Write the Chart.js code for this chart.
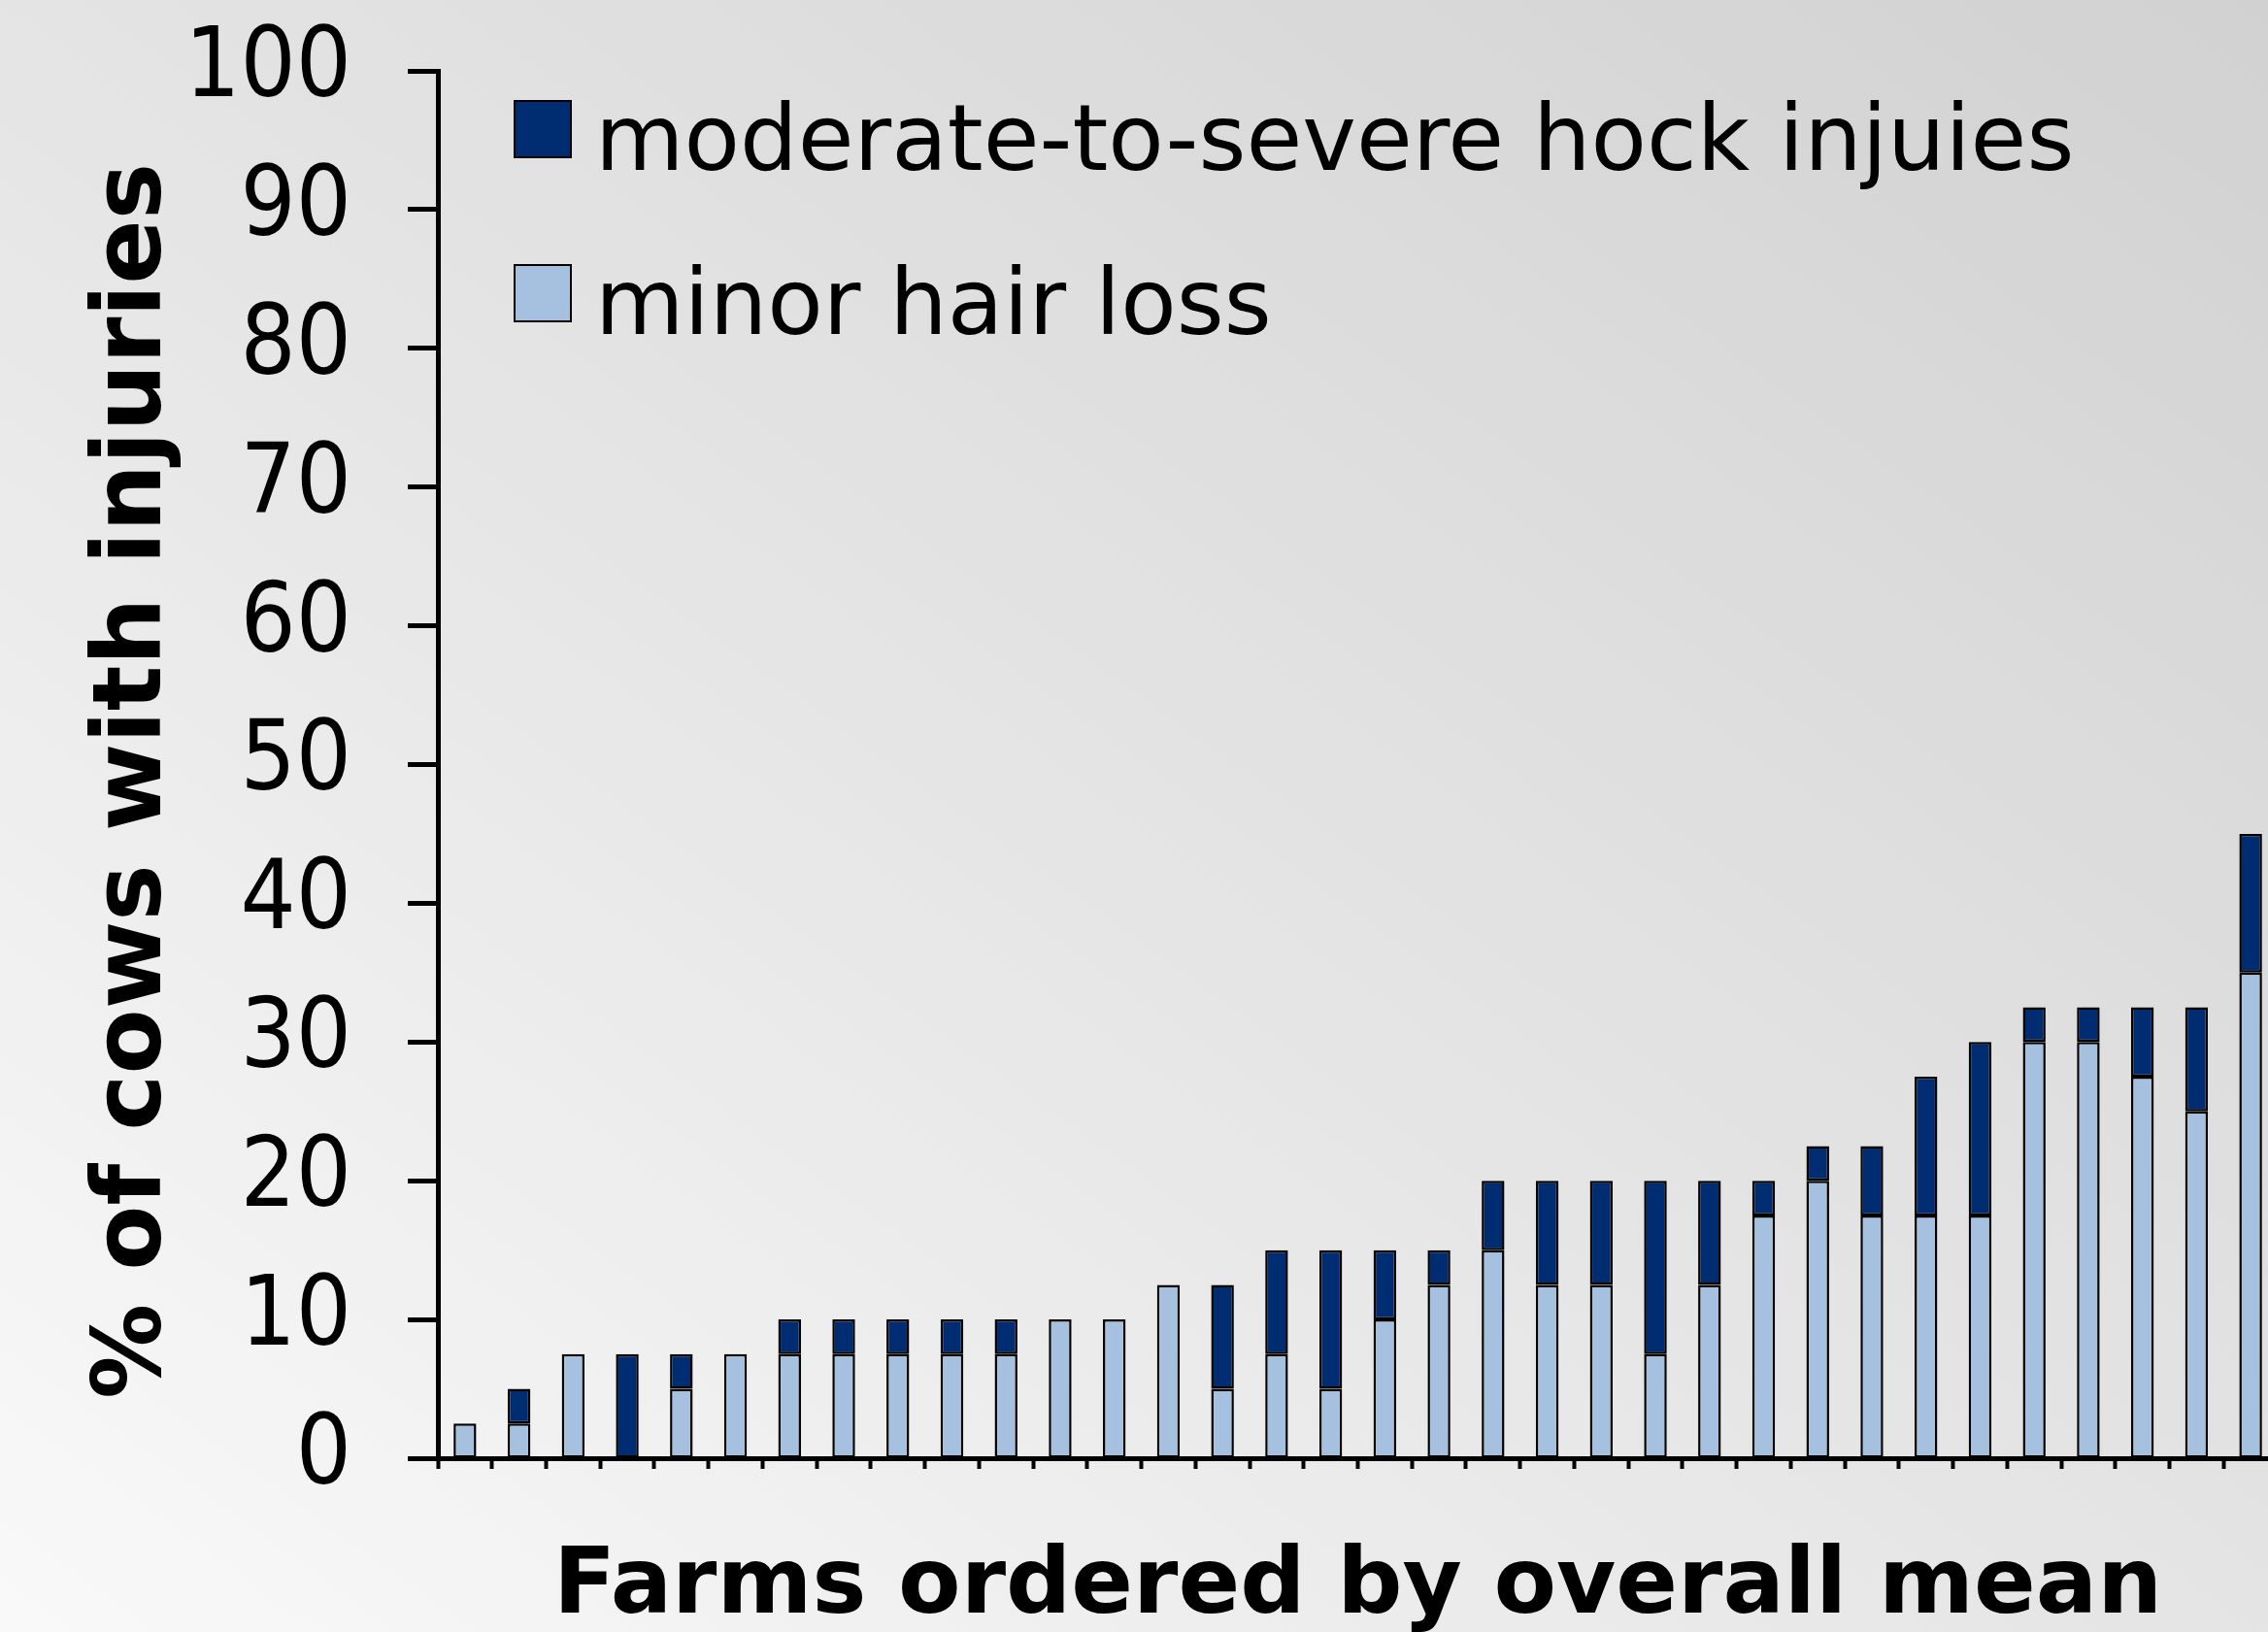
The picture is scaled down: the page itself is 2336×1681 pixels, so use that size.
<!DOCTYPE html>
<html>
<head>
<meta charset="utf-8">
<script src="https://cdn.jsdelivr.net/npm/chart.js@4.4.1/dist/chart.umd.min.js"></script>
<style>
html, body { margin: 0; padding: 0; overflow: hidden; }
#wrap { position: relative; width: 2336px; height: 1681px; overflow: hidden;
        background: linear-gradient(to top right, #f9f9f9 0%, #e4e4e4 50%, #d1d1d1 100%); }
#box { position: absolute; left: 0; top: 0; width: 2346px; height: 1681px; }
</style>
</head>
<body>
<div id="wrap"><div id="box"><canvas id="c"></canvas></div></div>
<script>
// ---- data ----
const farms = ['F1','F2','F3','F4','F5','F6','F7','F8','F9','F10','F11','F12','F13','F14','F15','F16','F17',
               'F18','F19','F20','F21','F22','F23','F24','F25','F26','F27','F28','F29','F30','F31','F32','F33','F34'];
const minorHairLoss = [2.5, 2.5, 7.5, 0, 5, 7.5, 7.5, 7.5, 7.5, 7.5, 7.5, 10, 10, 12.5, 5, 7.5, 5,
                       10, 12.5, 15, 12.5, 12.5, 7.5, 12.5, 17.5, 20, 17.5, 17.5, 17.5, 30, 30, 27.5, 25, 35];
const moderateSevere = [0, 2.5, 0, 7.5, 2.5, 0, 2.5, 2.5, 2.5, 2.5, 2.5, 0, 0, 0, 7.5, 7.5, 10,
                        5, 2.5, 5, 7.5, 7.5, 12.5, 7.5, 2.5, 2.5, 5, 10, 12.5, 2.5, 2.5, 5, 7.5, 10];
const seriesNames = ['moderate-to-severe hock injuies', 'minor hair loss'];
const yTickValues = [0, 10, 20, 30, 40, 50, 60, 70, 80, 90, 100];
const xTitle = 'Farms ordered by overall mean';
const yTitle = '% of cows with injuries';

// ---- layout / style ----
const FONT = '"DejaVu Sans", Verdana, sans-serif';
const TICK_FONT = '"DejaVu Sans Condensed", "DejaVu Sans", sans-serif';
const AXIS_LEFT = 451, AXIS_BOTTOM = 1502, CANVAS_H = 1681;
const DARK = '#002D72', LIGHT = '#A6C1E0';

// legend swatches: square drawn in the upper part of a taller image so the label text sits lower
function swatch(color) {
  const cv = document.createElement('canvas');
  cv.width = 60; cv.height = 96;
  const g = cv.getContext('2d');
  g.fillStyle = color; g.fillRect(1, 1, 58, 58);
  g.strokeStyle = '#000'; g.lineWidth = 2; g.strokeRect(1, 1, 58, 58);
  return cv;
}
const swatches = [swatch(LIGHT), swatch(DARK)];

const legendPlace = {
  id: 'legendPlace',
  afterLayout(chart) {
    const l = chart.legend;
    if (!l) return;
    const w = l.width, h = l.height;
    l.left = 477; l.top = 29;
    l.right = l.left + w; l.bottom = l.top + h;
  }
};

new Chart(document.getElementById('c'), {
  type: 'bar',
  data: {
    labels: farms,
    datasets: [
      { label: seriesNames[1], data: minorHairLoss, backgroundColor: LIGHT, borderColor: '#000',
        borderWidth: 2.5, borderSkipped: false, barPercentage: 0.42, categoryPercentage: 1 },
      { label: seriesNames[0], data: moderateSevere, backgroundColor: DARK, borderColor: '#000',
        borderWidth: 2.5, borderSkipped: false, barPercentage: 0.42, categoryPercentage: 1 }
    ]
  },
  options: {
    responsive: true,
    maintainAspectRatio: false,
    animation: false,
    layout: { padding: { top: 73, left: 0, right: 0, bottom: 0 } },
    plugins: {
      tooltip: { enabled: false },
      legend: {
        position: 'chartArea',
        align: 'start',
        reverse: true,
        labels: {
          usePointStyle: true,
          boxWidth: 14, boxHeight: 58, padding: 75,
          color: '#000', font: { family: FONT, size: 94 },
          generateLabels(chart) {
            const items = Chart.defaults.plugins.legend.labels.generateLabels(chart);
            items.forEach(it => { it.pointStyle = swatches[it.datasetIndex]; });
            return items;
          }
        }
      }
    },
    scales: {
      x: {
        stacked: true,
        ticks: { display: false },
        grid: { display: true, drawOnChartArea: false, drawTicks: true, tickLength: 11,
                tickWidth: 4, tickColor: '#000', offset: true },
        border: { display: true, color: '#000', width: 5 },
        title: { display: true, text: xTitle, color: '#000',
                 font: { family: FONT, size: 94, weight: 'bold', lineHeight: 0.95 },
                 padding: { top: 0, bottom: 0 } },
        afterFit(s) { s.height = CANVAS_H - AXIS_BOTTOM; }
      },
      y: {
        stacked: true,
        min: 0, max: 100,
        afterBuildTicks(s) { s.ticks = yTickValues.map(v => ({ value: v })); },
        ticks: { padding: 58, color: '#000', font: { family: TICK_FONT, size: 100 } },
        grid: { drawOnChartArea: false, drawTicks: true, tickLength: 31, tickWidth: 5, tickColor: '#000' },
        border: { display: true, color: '#000', width: 5 },
        title: { display: true, text: yTitle + ' ', color: '#000',
                 font: { family: FONT, size: 98, weight: 'bold' }, padding: { top: 81, bottom: 0 } },
        afterFit(s) { s.width = AXIS_LEFT; s.paddingTop = 0; s.paddingBottom = 0; }
      }
    }
  },
  plugins: [legendPlace]
});
</script>
</body>
</html>
